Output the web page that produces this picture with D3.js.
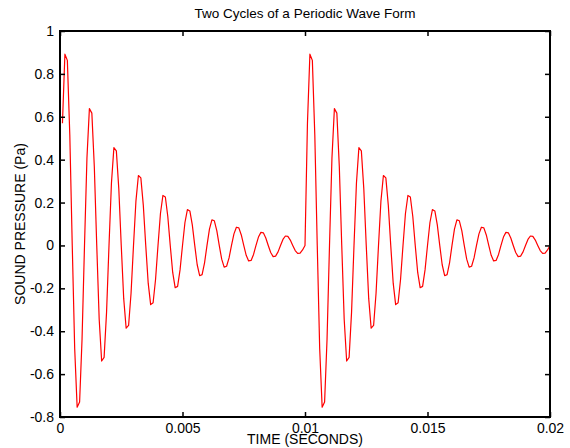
<!DOCTYPE html>
<html>
<head>
<meta charset="utf-8">
<script src="https://cdn.jsdelivr.net/npm/d3@7"></script>
<style>
  body { margin: 0; background: #fff; }
  svg { display: block; font-family: "Liberation Sans", Arial, sans-serif; }
  .tick line { stroke: #000; stroke-width: 1.5; }
  .tick text { font-size: 14px; fill: #000; }
</style>
</head>
<body>
<script>
// samples are 0.1 ms apart, the first one at 0.1 ms
var sampleStep = 0.0001;

var cycleOne = [
   0.570,  0.892,  0.863,  0.516, 0, -0.482, -0.754, -0.730, -0.436, 0,
   0.408,  0.638,  0.617,  0.369, 0, -0.345, -0.539, -0.522, -0.312, 0,
   0.291,  0.456,  0.441,  0.264, 0, -0.247, -0.386, -0.373, -0.223, 0,
   0.208,  0.326,  0.315,  0.188, 0, -0.176, -0.276, -0.267, -0.159, 0,
   0.149,  0.233,  0.226,  0.135, 0, -0.126, -0.197, -0.191, -0.114, 0,
   0.107,  0.167,  0.161,  0.096, 0, -0.090, -0.141, -0.136, -0.081, 0,
   0.076,  0.119,  0.115,  0.069, 0, -0.064, -0.101, -0.097, -0.058, 0,
   0.054,  0.085,  0.082,  0.049, 0, -0.046, -0.072, -0.070, -0.042, 0,
   0.039,  0.061,  0.059,  0.035, 0, -0.033, -0.052, -0.050, -0.030, 0,
   0.028,  0.044,  0.042,  0.025, 0, -0.024, -0.037, -0.036, -0.021, 0
];

var cycleTwo = [
   0.570,  0.892,  0.863,  0.516, 0, -0.482, -0.754, -0.730, -0.436, 0,
   0.408,  0.638,  0.617,  0.369, 0, -0.345, -0.539, -0.522, -0.312, 0,
   0.291,  0.456,  0.441,  0.264, 0, -0.247, -0.386, -0.373, -0.223, 0,
   0.208,  0.326,  0.315,  0.188, 0, -0.176, -0.276, -0.267, -0.159, 0,
   0.149,  0.233,  0.226,  0.135, 0, -0.126, -0.197, -0.191, -0.114, 0,
   0.107,  0.167,  0.161,  0.096, 0, -0.090, -0.141, -0.136, -0.081, 0,
   0.076,  0.119,  0.115,  0.069, 0, -0.064, -0.101, -0.097, -0.058, 0,
   0.054,  0.085,  0.082,  0.049, 0, -0.046, -0.072, -0.070, -0.042, 0,
   0.039,  0.061,  0.059,  0.035, 0, -0.033, -0.052, -0.050, -0.030, 0,
   0.028,  0.044,  0.042,  0.025, 0, -0.024, -0.037, -0.036, -0.021, 0
];

var xTicks = [0, 0.005, 0.01, 0.015, 0.02];
var xTickLabels = ["0", "0.005", "0.01", "0.015", "0.02"];
var yTicks = [-0.8, -0.6, -0.4, -0.2, 0, 0.2, 0.4, 0.6, 0.8, 1];
var yTickLabels = ["-0.8", "-0.6", "-0.4", "-0.2", "0", "0.2", "0.4", "0.6", "0.8", "1"];

var W = 570, H = 448;
var m = {left: 60, right: 20, top: 31, bottom: 31};

var svg = d3.select("body").append("svg")
    .attr("width", W)
    .attr("height", H);

var x = d3.scaleLinear().domain([0, 0.02]).range([m.left, W - m.right]);
var y = d3.scaleLinear().domain([-0.8, 1]).range([H - m.bottom, m.top]);

var pressure = cycleOne.concat(cycleTwo);

var line = d3.line()
    .x(function(d, i) { return x((i + 1) * sampleStep); })
    .y(function(d) { return y(d); });

svg.append("path")
    .datum(pressure)
    .attr("fill", "none")
    .attr("stroke", "#ff0000")
    .attr("stroke-width", 1.2)
    .attr("stroke-linejoin", "round")
    .attr("d", line);

// axes: ticks point inward on all four sides
var axisB = svg.append("g")
    .attr("transform", "translate(0," + y(-0.8) + ")")
    .call(d3.axisBottom(x).tickValues(xTicks).tickSizeInner(-5).tickSizeOuter(0).tickPadding(6)
        .tickFormat(function(d, i) { return xTickLabels[i]; }));
axisB.select(".domain").remove();

var axisT = svg.append("g")
    .attr("transform", "translate(0," + y(1) + ")")
    .call(d3.axisTop(x).tickValues(xTicks).tickSizeInner(-5).tickSizeOuter(0).tickFormat(""));
axisT.select(".domain").remove();

var axisL = svg.append("g")
    .attr("transform", "translate(" + x(0) + ",0)")
    .call(d3.axisLeft(y).tickValues(yTicks).tickSizeInner(-5).tickSizeOuter(0).tickPadding(6)
        .tickFormat(function(d, i) { return yTickLabels[i]; }));
axisL.select(".domain").remove();

var axisR = svg.append("g")
    .attr("transform", "translate(" + x(0.02) + ",0)")
    .call(d3.axisRight(y).tickValues(yTicks).tickSizeInner(-5).tickSizeOuter(0).tickFormat(""));
axisR.select(".domain").remove();

svg.append("rect")
    .attr("x", x(0))
    .attr("y", y(1))
    .attr("width", x(0.02) - x(0))
    .attr("height", y(-0.8) - y(1))
    .attr("fill", "none")
    .attr("stroke", "#000")
    .attr("stroke-width", 2);

svg.append("text")
    .attr("x", (x(0) + x(0.02)) / 2)
    .attr("y", 18)
    .attr("text-anchor", "middle")
    .style("font-size", "13.5px")
    .text("Two Cycles of a Periodic Wave Form");

svg.append("text")
    .attr("x", (x(0) + x(0.02)) / 2)
    .attr("y", 444)
    .attr("text-anchor", "middle")
    .style("font-size", "14px")
    .text("TIME (SECONDS)");

svg.append("text")
    .attr("transform", "translate(25," + (y(-0.8) + y(1)) / 2 + ") rotate(-90)")
    .attr("text-anchor", "middle")
    .style("font-size", "14px")
    .text("SOUND PRESSURE (Pa)");
</script>
</body>
</html>
